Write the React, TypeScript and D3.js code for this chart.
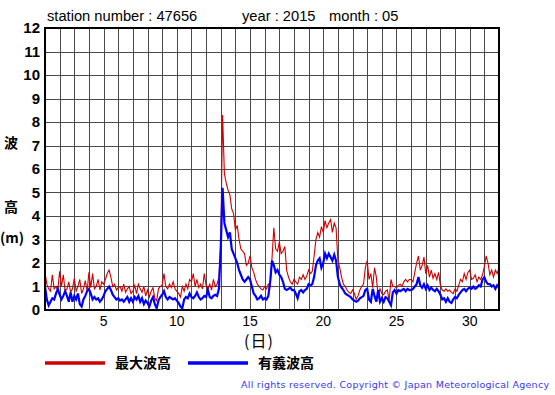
import React, { useEffect, useRef } from "react";
import * as d3 from "d3";

// header info
const stationNumber = "47656";
const year = "2015";
const month = "05";

// 3-hourly readings (8 per day), day 1 .. day 31, plus the closing point at day 32
const maxWave = [
  [1.6, 1.1, 0.9, 0.8, 1.5, 0.9, 1.0, 0.85],
  [1.65, 1.0, 1.5, 0.8, 0.9, 1.2, 0.75, 0.9],
  [1.35, 0.8, 1.0, 1.3, 0.7, 0.9, 1.25, 0.8],
  [1.6, 0.95, 1.55, 0.9, 1.0, 1.3, 0.85, 1.2],
  [1.1, 1.3, 1.55, 1.7, 1.4, 1.0, 1.1, 0.85],
  [0.95, 1.0, 0.8, 1.1, 0.75, 0.9, 1.0, 0.7],
  [0.8, 1.05, 0.7, 1.1, 0.9, 0.75, 1.0, 0.6],
  [0.85, 0.55, 0.8, 0.95, 0.5, 0.4, 0.9, 1.0],
  [1.05, 1.55, 1.0, 0.9, 1.1, 0.95, 1.2, 0.9],
  [0.8, 0.7, 0.55, 1.0, 0.8, 1.1, 0.9, 1.3],
  [1.2, 1.55, 1.0, 1.3, 0.95, 1.1, 0.9, 1.55],
  [1.05, 0.9, 1.1, 0.85, 1.3, 1.0, 1.1, 1.4],
  [2.8, 8.3, 5.8, 5.4, 5.1, 4.9, 4.3, 4.1],
  [3.4, 3.6, 3.0, 2.6, 2.5, 2.4, 1.9, 2.0],
  [2.3, 1.8, 1.6, 1.3, 1.1, 1.0, 0.9, 0.85],
  [1.0, 0.9, 1.1, 1.0, 2.2, 3.5, 2.6, 2.5],
  [2.9, 2.4, 2.5, 2.7, 1.7, 1.4, 1.2, 1.1],
  [1.3, 1.2, 1.1, 1.4, 1.3, 1.5, 1.3, 1.45],
  [1.7, 1.55, 1.65, 2.3, 3.0, 3.3, 3.1, 3.55],
  [3.3, 3.8, 3.5, 3.7, 3.85, 3.3, 3.7, 3.5],
  [2.1, 1.8, 1.4, 1.1, 1.0, 0.85, 0.75, 0.7],
  [0.85, 0.7, 0.45, 0.6, 0.85, 1.0, 1.1, 1.8],
  [2.1, 1.3, 1.55, 0.95, 1.8, 1.4, 0.55, 0.9],
  [0.7, 0.65, 0.8, 0.85, 0.4, 1.3, 1.0, 1.0],
  [0.95, 1.05, 1.1, 1.0, 1.2, 1.3, 1.2, 1.3],
  [1.3, 1.2, 1.6, 2.0, 2.3, 1.7, 1.9, 2.25],
  [1.55, 1.9, 1.4, 1.7, 1.35, 1.55, 1.3, 1.6],
  [1.05, 0.85, 0.8, 0.9, 0.8, 0.85, 0.75, 0.7],
  [0.9, 0.8, 1.06, 1.3, 1.2, 1.55, 1.3, 1.6],
  [1.7, 1.3, 1.35, 1.5, 1.2, 1.4, 1.3, 1.5],
  [1.85, 2.3, 2.0, 1.5, 1.7, 1.4, 1.7, 1.55],
  [1.8],
];

const sigWave = [
  [1.0, 0.45, 0.2, 0.35, 0.5, 0.45, 0.7, 0.9],
  [0.65, 0.45, 0.6, 0.8, 0.6, 0.35, 0.75, 0.35],
  [0.6, 0.45, 0.7, 0.25, 0.15, 0.45, 0.6, 0.8],
  [0.9, 0.7, 0.45, 0.55, 0.45, 0.5, 0.35, 0.45],
  [0.6, 0.8, 0.9, 1.0, 0.85, 0.65, 0.55, 0.45],
  [0.5, 0.4, 0.45, 0.35, 0.45, 0.55, 0.35, 0.5],
  [0.35, 0.55, 0.45, 0.6, 0.35, 0.5, 0.25, 0.4],
  [0.3, 0.15, 0.4, 0.55, 0.25, 0.07, 0.4, 0.55],
  [0.65, 0.8, 0.55, 0.45, 0.55, 0.5, 0.45, 0.5],
  [0.4, 0.3, 0.15, 0.07, 0.45, 0.55, 0.5, 0.7],
  [0.55, 0.5, 0.6, 0.75, 0.55, 0.45, 0.5, 0.6],
  [0.55, 0.85, 0.55, 0.5, 0.6, 0.65, 0.6, 0.9],
  [2.6, 5.2, 3.7, 3.4, 3.1, 3.3, 2.6, 2.4],
  [2.2, 2.0, 1.7, 1.5, 1.3, 1.2, 1.3, 1.4],
  [1.3, 1.0, 0.7, 0.6, 0.45, 0.5, 0.6, 0.45],
  [0.5, 0.45, 0.6, 1.2, 2.1, 1.9, 1.6, 1.7],
  [1.5, 1.4, 1.2, 0.9, 0.85, 0.9, 0.95, 0.85],
  [0.85, 0.7, 0.5, 0.8, 0.85, 0.75, 0.85, 0.9],
  [1.1, 1.05, 1.1, 1.4, 1.9, 2.1, 2.2, 1.8],
  [2.0, 2.4, 2.2, 2.4, 2.25, 2.1, 2.35, 2.1],
  [1.4, 1.1, 0.95, 0.85, 0.7, 0.65, 0.6, 0.55],
  [0.45, 0.4, 0.35, 0.4, 0.5, 0.55, 0.6, 0.85],
  [0.9, 0.45, 0.35, 0.9, 0.6, 0.35, 0.85, 0.35],
  [0.5, 0.35, 0.55, 0.5, 0.35, 0.2, 0.75, 0.85],
  [0.7, 0.85, 0.8, 0.85, 0.9, 0.8, 0.9, 0.85],
  [0.85, 0.9, 1.0, 1.1, 1.4, 1.05, 0.95, 1.1],
  [0.9, 1.05, 0.85, 0.95, 0.85, 0.8, 0.9, 0.8],
  [0.65, 0.45, 0.5, 0.35, 0.5, 0.35, 0.3, 0.45],
  [0.55, 0.5, 0.65, 0.75, 0.85, 0.9, 0.8, 0.9],
  [0.95, 0.9, 1.0, 0.9, 0.95, 1.05, 1.0, 1.3],
  [1.4, 1.2, 1.1, 1.1, 1.0, 1.05, 0.9, 1.05],
  [0.95],
];

const xTickLabels = [5, 10, 15, 20, 25, 30];
const yTickLabels = [0, 1, 2, 3, 4, 5, 6, 7, 8, 9, 10, 11, 12];
const legendNames = ["最大波高", "有義波高"];
const seriesColors = ["#d00000", "#0000ff"];

const samplesPerDay = 8;
const sansFont = "'Liberation Sans', Arial, sans-serif";
const cjk = "'Noto Sans CJK JP', sans-serif";

export default function App() {
  const ref = useRef<SVGSVGElement>(null);

  useEffect(() => {
    const svg = d3.select(ref.current);
    svg.selectAll("*").remove();

    // plot area
    const left = 45, right = 499, top = 28, bottom = 310;

    const x = d3.scaleLinear().domain([1, 32]).range([left, right]);
    const y = d3.scaleLinear().domain([0, 12]).range([bottom, top]);

    const toPoints = (rows: number[][]) =>
      rows.flat().map((v, i) => ({ day: 1 + i / samplesPerDay, v }));

    // grid
    const grid = svg.append("g").attr("shape-rendering", "crispEdges");
    grid.selectAll(".vline")
      .data(d3.range(2, 32))
      .join("line")
      .attr("x1", (d) => Math.round(x(d)) + 0.5)
      .attr("x2", (d) => Math.round(x(d)) + 0.5)
      .attr("y1", top)
      .attr("y2", bottom)
      .attr("stroke", "#4a4a4a")
      .attr("stroke-width", 1);
    grid.selectAll(".hline")
      .data(d3.range(1, 12))
      .join("line")
      .attr("y1", (d) => Math.round(y(d)) + 0.5)
      .attr("y2", (d) => Math.round(y(d)) + 0.5)
      .attr("x1", left)
      .attr("x2", right)
      .attr("stroke", "#4a4a4a")
      .attr("stroke-width", 1);

    // series
    const line = d3.line<{ day: number; v: number }>()
      .x((d) => x(d.day))
      .y((d) => y(d.v));

    const plot = svg.append("g");
    plot.append("path")
      .attr("d", line(toPoints(maxWave)))
      .attr("fill", "none")
      .attr("stroke", seriesColors[0])
      .attr("stroke-width", 1.1);
    plot.append("path")
      .attr("d", line(toPoints(sigWave)))
      .attr("fill", "none")
      .attr("stroke", seriesColors[1])
      .attr("stroke-width", 2.2);

    // frame
    svg.append("rect")
      .attr("x", left)
      .attr("y", top)
      .attr("width", right - left)
      .attr("height", bottom - top)
      .attr("fill", "none")
      .attr("stroke", "#000")
      .attr("stroke-width", 2)
      .attr("shape-rendering", "crispEdges");

    // y labels
    svg.selectAll(".ylab")
      .data(yTickLabels)
      .join("text")
      .attr("x", 40)
      .attr("y", (d) => y(d) + 5)
      .attr("text-anchor", "end")
      .style("font-family", sansFont)
      .style("font-weight", "bold")
      .style("font-size", "15px")
      .text((d) => d);

    // x labels
    svg.selectAll(".xlab")
      .data(xTickLabels)
      .join("text")
      .attr("x", (d) => x(d))
      .attr("y", 326)
      .attr("text-anchor", "middle")
      .style("font-family", sansFont)
      .style("font-size", "14px")
      .text((d) => d);

    svg.append("text")
      .attr("x", 244)
      .attr("y", 347)
      .style("font-family", cjk)
      .style("font-size", "16px")
      .style("letter-spacing", "1px")
      .text("(日)");

    // y axis title
    svg.append("text").attr("x", 11).attr("y", 148).attr("text-anchor", "middle")
      .style("font-family", cjk).style("font-weight", "bold").style("font-size", "14px").text("波");
    svg.append("text").attr("x", 11).attr("y", 212).attr("text-anchor", "middle")
      .style("font-family", cjk).style("font-weight", "bold").style("font-size", "14px").text("高");
    svg.append("text").attr("x", 0).attr("y", 243)
      .style("font-family", cjk).style("font-weight", "bold").style("font-size", "14px").text("(m)");

    // title
    const title = [
      { t: `station number : ${stationNumber}`, x: 47 },
      { t: `year : ${year}`, x: 242 },
      { t: `month : ${month}`, x: 329 },
    ];
    svg.selectAll(".title")
      .data(title)
      .join("text")
      .attr("x", (d) => d.x)
      .attr("y", 21)
      .style("font-family", sansFont)
      .style("font-size", "14.7px")
      .text((d) => d.t);

    // legend
    const legend = svg.selectAll(".leg")
      .data(legendNames)
      .join("g")
      .attr("transform", (d, i) => `translate(${45 + i * 143}, 363)`);
    legend.append("line")
      .attr("x1", 0).attr("x2", 60)
      .attr("stroke", (d, i) => seriesColors[i])
      .attr("stroke-width", 3.5);
    legend.append("text")
      .attr("x", 70).attr("y", 5)
      .style("font-family", cjk).style("font-weight", "bold").style("font-size", "14px")
      .text((d) => d);

    svg.append("text")
      .attr("x", 241)
      .attr("y", 388)
      .attr("textLength", 308)
      .attr("lengthAdjust", "spacing")
      .style("font-family", "'DejaVu Sans', sans-serif")
      .style("font-size", "9.5px")
      .attr("fill", "#3838f0")
      .text("All rights reserved. Copyright © Japan Meteorological Agency");
  }, []);

  return (
    <svg
      ref={ref}
      width={555}
      height={395}
      style={{ position: "absolute", left: 0, top: 0, background: "#fff" }}
    />
  );
}
